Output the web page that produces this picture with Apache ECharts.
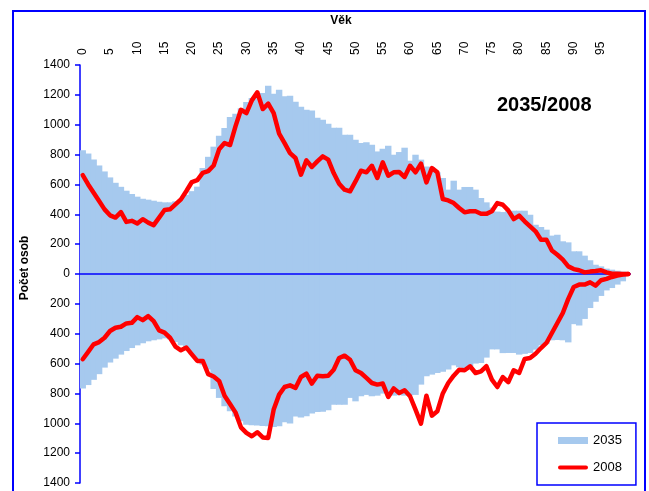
<!DOCTYPE html>
<html>
<head>
<meta charset="utf-8">
<script src="https://cdn.jsdelivr.net/npm/echarts@6/dist/echarts.min.js"></script>
<style>
html,body{margin:0;padding:0;background:#fff;}
#chart{width:649px;height:491px;}
</style>
</head>
<body>
<div id="chart"></div>
<script>
// Ages 0..100
const ages = [];
for (let i = 0; i <= 100; i++) ages.push(String(i));

// 2035 projection, upper half (counts)
const upper2035 = [829,807,767,727,687,647,611,584,558,536,518,504,498,491,484,480,480,487,500,530,
  555,585,710,785,853,926,978,1051,1074,1111,1152,1179,1205,1212,1261,1208,1234,1190,1194,1154,
  1121,1100,1096,1047,1033,1007,980,980,933,933,900,877,882,866,821,839,859,799,817,846,
  759,799,766,720,717,681,643,565,625,565,583,583,565,509,480,445,418,415,420,424,
  424,424,397,330,315,297,257,263,219,212,152,152,123,92,62,51,36,29,22,16,0];

// 2035 projection, lower half (counts, drawn downward)
const lower2035 = [767,744,709,671,627,593,567,540,516,496,478,464,451,444,438,431,438,456,478,504,
  538,571,607,640,770,830,886,920,955,987,1010,1013,1015,1018,1020,1025,1020,993,1002,955,
  962,953,935,924,922,913,875,875,875,830,853,819,810,819,815,801,808,815,812,815,
  812,810,741,685,674,663,655,640,612,625,630,618,600,596,560,505,505,530,529,529,
  540,535,529,507,478,467,444,442,444,458,336,345,301,228,186,147,110,94,71,49,0];

// 2008 actual, upper half (counts)
const upper2008 = [662,600,544,489,433,393,378,415,349,356,338,367,344,327,378,429,433,467,500,556,
  616,629,678,689,727,835,877,864,989,1100,1078,1163,1217,1105,1141,1078,940,877,810,777,
  665,761,717,754,788,766,676,605,565,554,620,692,681,725,643,748,658,681,683,650,
  725,681,739,614,710,681,502,493,475,442,413,420,420,404,403,420,475,464,426,368,
  391,353,319,286,230,230,158,129,96,51,33,25,11,16,20,25,11,2,2,0,0];

// 2008 actual, lower half (counts, drawn downward)
const lower2008 = [571,522,471,456,427,382,360,353,331,327,289,309,282,316,378,393,427,487,511,493,
  538,582,582,671,687,716,816,871,927,1027,1064,1087,1060,1095,1098,908,808,757,746,763,
  690,667,734,681,685,681,641,563,547,574,645,663,696,730,741,734,824,766,797,779,
  819,908,1002,815,949,920,800,730,681,641,645,618,663,652,618,708,757,690,725,645,
  663,569,563,534,496,462,395,328,261,167,87,71,71,56,78,42,33,20,11,4,0];

const yTicks = {min: -1400, max: 1400, step: 200};

const FONT = 'Liberation Sans, Arial, sans-serif';
const BLUE = '#0000FF';
const BAR = '#A6C9EE';
const RED = '#FF0000';

const chart = echarts.init(document.getElementById('chart'), null, {renderer: 'canvas'});
chart.setOption({
  animation: false,
  title: {
    text: '2035/2008', left: 492, top: 90,
    textStyle: {fontFamily: FONT, fontSize: 20, fontWeight: 'bold', color: '#000'}
  },
  grid: {left: 80, top: 65, right: 18, bottom: 8, containLabel: false},
  legend: {
    orient: 'vertical', left: 537, top: 423,
    padding: [11, 14, 11, 21], itemGap: 14, itemWidth: 30, itemHeight: 7,
    borderColor: BLUE, borderWidth: 1.5,
    textStyle: {fontFamily: FONT, fontSize: 13, color: '#000'},
    data: [
      {name: '2035', icon: 'rect'},
      {name: '2008', icon: 'path://M2,0 L28,0 A2,2 0 0 1 28,4 L2,4 A2,2 0 0 1 2,0 Z'}
    ]
  },
  xAxis: {
    type: 'category', data: ages, position: 'top',
    axisLine: {show: false}, axisTick: {show: false},
    axisLabel: {
      rotate: 90, margin: 10, fontFamily: FONT, fontSize: 12, color: '#000',
      interval: function (i) { return i % 5 === 0 && i < 100; }
    },
    splitLine: {show: false}
  },
  yAxis: {
    type: 'value', min: yTicks.min, max: yTicks.max, interval: yTicks.step,
    axisLine: {show: true, lineStyle: {color: BLUE, width: 1.5}},
    axisTick: {show: true, length: 5, lineStyle: {color: BLUE, width: 1.5}},
    axisLabel: {
      margin: 10, fontFamily: FONT, fontSize: 12, color: '#000',
      formatter: function (v) { return String(Math.abs(v)); }
    },
    splitLine: {show: false}
  },
  graphic: [
    {type: 'rect', shape: {x: 13, y: 11, width: 632, height: 520},
     style: {fill: 'none', stroke: BLUE, lineWidth: 2}, silent: true, z: -1},
    {type: 'text', x: 341, y: 21,
     style: {text: 'Věk', font: 'bold 12px ' + FONT, fill: '#000', textAlign: 'center', textVerticalAlign: 'middle'}},
    {type: 'text', x: 25, y: 268, rotation: Math.PI / 2,
     style: {text: 'Počet osob', font: 'bold 12px ' + FONT, fill: '#000', textAlign: 'center', textVerticalAlign: 'middle'}}
  ],
  series: [
    {
      name: '2035', type: 'bar', data: upper2035,
      barWidth: '118%', barGap: '-100%',
      itemStyle: {color: BAR}, z: 2
    },
    {
      name: '2035', type: 'bar', data: lower2035.map(v => -v),
      barWidth: '118%', barGap: '-100%',
      itemStyle: {color: BAR}, z: 2,
      markLine: {
        silent: true, symbol: ['none', 'none'], label: {show: false},
        lineStyle: {color: BLUE, width: 1.5, type: 'solid'},
        data: [{yAxis: 0}]
      }
    },
    {
      name: '2008', type: 'line', data: upper2008, symbol: 'none', showSymbol: false,
      lineStyle: {color: RED, width: 4.5, join: 'round', cap: 'round'}, itemStyle: {color: RED}, z: 5
    },
    {
      name: '2008', type: 'line', data: lower2008.map(v => -v), symbol: 'none', showSymbol: false,
      lineStyle: {color: RED, width: 4.5, join: 'round', cap: 'round'}, itemStyle: {color: RED}, z: 5
    }
  ]
});
</script>
</body>
</html>
